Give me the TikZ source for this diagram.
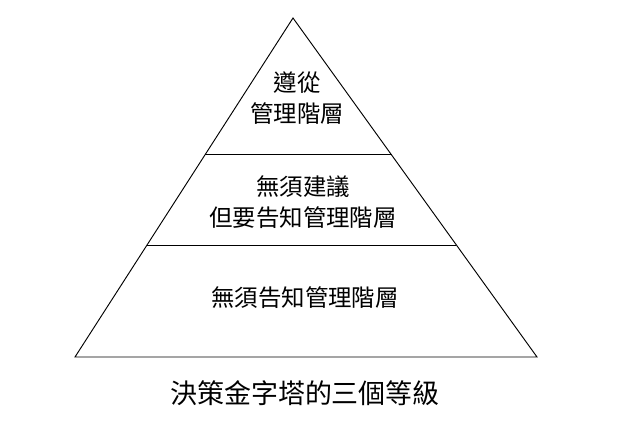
\documentclass[tikz,border=0pt]{standalone}
\usepackage{fontspec}
\newfontfamily\cjk{Noto Sans CJK TC}
\usetikzlibrary{calc}
\tikzset{
  tier/.style={font=\cjk\fontsize{20}{27}\selectfont, align=center},
  caption/.style={font=\cjk\fontsize{23}{27}\selectfont}
}
\begin{document}
\begin{tikzpicture}[x=0.03cm,y=-0.03cm]
		\useasboundingbox (0,0) rectangle (620,430);
		\coordinate (A) at (293,18);
		\coordinate (L) at (75,357);
		\coordinate (R) at (537,357);
		\draw[line width=0.8pt] (A) -- (L) -- (R) -- cycle;
		% dividing lines
		\draw[line width=0.8pt] ($(A)!0.404!(L)$) -- ($(A)!0.404!(R)$);
		\draw[line width=0.8pt] ($(A)!0.670!(L)$) -- ($(A)!0.670!(R)$);
		
		\node[tier] (top) at (297,98) {遵從\\管理階層};
		\node[tier] (mid) at (303,202) {無須建議\\但要告知管理階層};
		\node[tier] (low) at (305,298) {無須告知管理階層};
		\node[caption] (cap) at (305,393) {決策金字塔的三個等級};
		\end{tikzpicture}
\end{document}
